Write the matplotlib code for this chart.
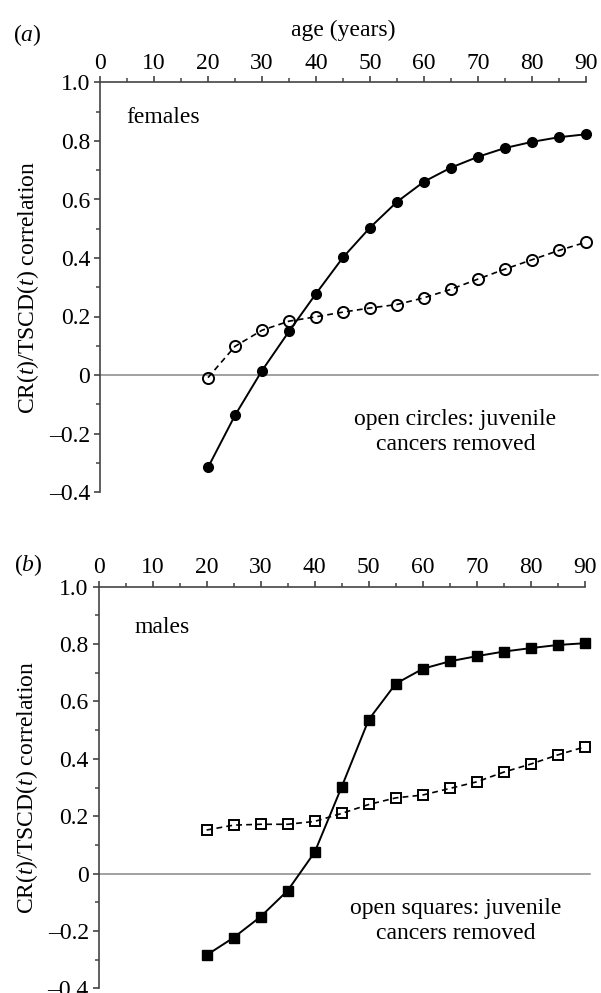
import numpy as np
import matplotlib
matplotlib.use("Agg")
import matplotlib.pyplot as plt
from matplotlib.ticker import MultipleLocator

plt.rcParams['font.family'] = ['Liberation Serif', 'DejaVu Serif']
plt.rcParams['mathtext.fontset'] = 'custom'
plt.rcParams['mathtext.rm'] = 'Liberation Serif'
plt.rcParams['mathtext.it'] = 'Liberation Serif:italic'

# ages (years)
ages = [20, 25, 30, 35, 40, 45, 50, 55, 60, 65, 70, 75, 80, 85, 90]

# panel (a) females
females_all = [-0.316, -0.138, 0.015, 0.149, 0.278, 0.402, 0.504, 0.592,
               0.661, 0.709, 0.746, 0.776, 0.797, 0.813, 0.823]
females_nojuv = [-0.009, 0.098, 0.153, 0.184, 0.199, 0.215, 0.229, 0.241,
                 0.264, 0.293, 0.328, 0.362, 0.394, 0.426, 0.454]

# panel (b) males
males_all = [-0.284, -0.223, -0.150, -0.059, 0.075, 0.303, 0.537, 0.662,
             0.714, 0.740, 0.758, 0.774, 0.786, 0.797, 0.803]
males_nojuv = [0.152, 0.169, 0.172, 0.172, 0.182, 0.210, 0.241, 0.264,
               0.274, 0.297, 0.320, 0.354, 0.382, 0.414, 0.442]

x_ticks = [0, 10, 20, 30, 40, 50, 60, 70, 80, 90]
y_ticks = [-0.4, -0.2, 0, 0.2, 0.4, 0.6, 0.8, 1.0]
y_ticklabels = ['\u20130.4', '\u20130.2', '0', '0.2', '0.4', '0.6', '0.8', '1.0']

W, H = 601, 993
fig = plt.figure(figsize=(W / 100, H / 100), dpi=100)

spine_col = '#444444'
fs = 17


def make_axes(rect, zero_xmax):
    ax = fig.add_axes(rect)
    ax.set_xlim(0, 90)
    ax.set_ylim(-0.4, 1.0)
    ax.spines['bottom'].set_visible(False)
    ax.spines['right'].set_visible(False)
    for s in ('top', 'left'):
        ax.spines[s].set_color(spine_col)
        ax.spines[s].set_linewidth(1.2)
    ax.xaxis.tick_top()
    ax.set_xticks(x_ticks)
    ax.xaxis.set_minor_locator(MultipleLocator(5))
    ax.set_yticks(y_ticks)
    ax.set_yticklabels(y_ticklabels)
    ax.yaxis.set_minor_locator(MultipleLocator(0.1))
    ax.tick_params(which='major', direction='out', length=4, width=1.2,
                   color=spine_col, labelsize=fs)
    ax.tick_params(which='minor', direction='out', length=3, width=1.1,
                   color=spine_col)
    ax.tick_params(axis='x', pad=2)
    ax.tick_params(axis='y', pad=3)
    ax.axhline(0, xmin=0, xmax=zero_xmax, color='#888888', lw=1.1,
               clip_on=False, zorder=1)
    ax.set_ylabel('CR($\\it{t}$)/TSCD($\\it{t}$) correlation', fontsize=fs)
    ax.yaxis.set_label_coords(-0.121, 0.5)
    return ax


# panel (a)
ax1 = make_axes([100 / W, 1 - 492 / H, 486 / W, 409.5 / H], 1.025)
ax1.plot(ages, females_all, color='black', lw=1.4, marker='o', ms=7,
         mfc='black', mec='black', clip_on=False, zorder=3)
ax1.plot(ages, females_nojuv, color='black', lw=1.2, ls=(0, (3.5, 2.5)),
         marker='o', ms=8, mfc='none', mec='black', mew=1.4,
         clip_on=False, zorder=3)
ax1.text(4.8, 0.88, 'females', fontsize=fs, ha='left', va='center')
ax1.text(65.8, -0.194, 'open circles: juvenile\ncancers removed', fontsize=fs,
         ha='center', va='center', linespacing=1.22)
ax1.set_xlabel('age (years)', fontsize=fs, labelpad=12)
ax1.xaxis.set_label_position('top')
fig.text(27.5 / W, 1 - 35 / H, '($\\it{a}$)', fontsize=fs, ha='center', va='center')

# panel (b)
ax2 = make_axes([98.5 / W, 1 - 988.4 / H, 486.5 / W, 401.7 / H], 1.01)
ax2.plot(ages, males_all, color='black', lw=1.4, marker='s', ms=6.5,
         mfc='black', mec='black', clip_on=False, zorder=3)
ax2.plot(ages, males_nojuv, color='black', lw=1.2, ls=(0, (3.5, 2.5)),
         marker='s', ms=7, mfc='none', mec='black', mew=1.4,
         clip_on=False, zorder=3)
ax2.text(6.7, 0.859, 'males', fontsize=fs, ha='left', va='center')
ax2.text(66, -0.165, 'open squares: juvenile\ncancers removed', fontsize=fs,
         ha='center', va='center', linespacing=1.22)
fig.text(28 / W, 1 - 565 / H, '($\\it{b}$)', fontsize=fs, ha='center', va='center')

fig.savefig('out.png', dpi=100)
